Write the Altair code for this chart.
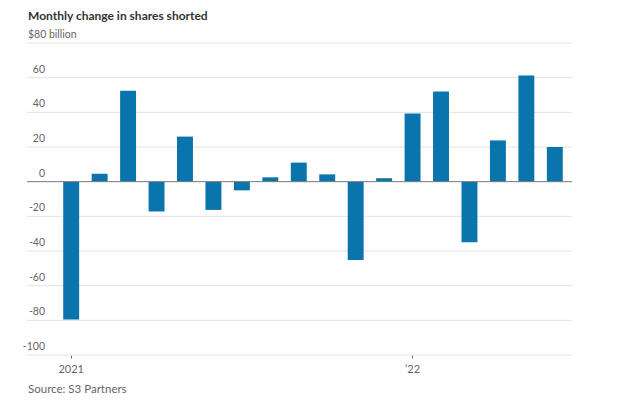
import altair as alt
import pandas as pd

months = ["2021-01", "2021-02", "2021-03", "2021-04", "2021-05", "2021-06",
          "2021-07", "2021-08", "2021-09", "2021-10", "2021-11", "2021-12",
          "2022-01", "2022-02", "2022-03", "2022-04", "2022-05", "2022-06"]
values = [-79.5, 4.6, 52.5, -17.2, 26.0, -16.3, -5.0, 2.5, 11.0, 4.2, -45.2, 2.0,
          39.3, 52.0, -35.0, 23.8, 61.2, 20.0]
tick_values = [-100, -80, -60, -40, -20, 0, 20, 40, 60]
tick_labels = ["-100", "-80", "-60", "-40", "-20", "0", "20", "40", "60"]
top_tick = 80
top_label = "$80 billion"
x_labels = {"2021-01": "2021", "2022-01": "\u201922"}
title = "Monthly change in shares shorted"
source = "Source: S3 Partners"

W, H = 545, 312
FONT = "Lato"
GRAY = "#666666"

df = pd.DataFrame({"month": months, "value": values})
ticks_df = pd.DataFrame({"v": tick_values, "label": tick_labels})
top_df = pd.DataFrame({"v": [top_tick], "label": [top_label]})
grid_df = pd.DataFrame({"v": [v for v in tick_values + [top_tick] if v != 0]})
src_df = pd.DataFrame({"t": [source]})

label_expr = " : ".join(
    [f"datum.value == '{k}' ? '{v}'" for k, v in x_labels.items()]) + " : ''"

yscale = alt.Scale(domain=[-100, 80], nice=False, zero=False)

grid = alt.Chart(grid_df).mark_rule(color="#e2e2e2", strokeWidth=1).encode(
    y=alt.Y("v:Q", scale=yscale, axis=None), x=alt.value(0), x2=alt.value(W))

bars = alt.Chart(df).mark_bar(color="#0a74ad").encode(
    x=alt.X("month:O",
            scale=alt.Scale(range=[22, 550], paddingInner=0.44, paddingOuter=0.5),
            axis=alt.Axis(title=None, values=[months[0], months[12]],
                          labelExpr=label_expr, labelAngle=0, domain=False,
                          tickSize=3, tickColor=GRAY, labelColor=GRAY,
                          labelFont=FONT, labelFontSize=11, labelPadding=5)),
    y=alt.Y("value:Q", scale=yscale, axis=None),
)

zero = alt.Chart(pd.DataFrame({"v": [0]})).mark_rule(color="#777777", strokeWidth=1).encode(
    y=alt.Y("v:Q", scale=yscale), x=alt.value(0), x2=alt.value(W))

ylab = alt.Chart(ticks_df).mark_text(align="right", baseline="bottom", dy=-3,
                                     font=FONT, fontSize=10.5, color=GRAY).encode(
    y=alt.Y("v:Q", scale=yscale), x=alt.value(18), text="label:N")

ytop = alt.Chart(top_df).mark_text(align="left", baseline="bottom", dy=-3,
                                   font=FONT, fontSize=10.5, color=GRAY).encode(
    y=alt.Y("v:Q", scale=yscale), x=alt.value(1), text="label:N")

src = alt.Chart(src_df).mark_text(align="left", baseline="alphabetic",
                                  font=FONT, fontSize=11.5, color=GRAY).encode(
    x=alt.value(1), y=alt.value(H + 38), text="t:N")

chart = alt.layer(grid, bars, zero, ylab, ytop, src).properties(
    width=W, height=H,
    title=alt.TitleParams(title, anchor="start", frame="group", font=FONT,
                          fontSize=12, fontWeight="bold", color="#333333",
                          offset=7, dx=1),
    padding={"left": 19, "top": 35, "right": 38, "bottom": 39},
    autosize=alt.AutoSizeParams(type="none"),
).configure_view(stroke=None)

chart.save("out.html", embed_options={"renderer": "svg", "actions": False})
